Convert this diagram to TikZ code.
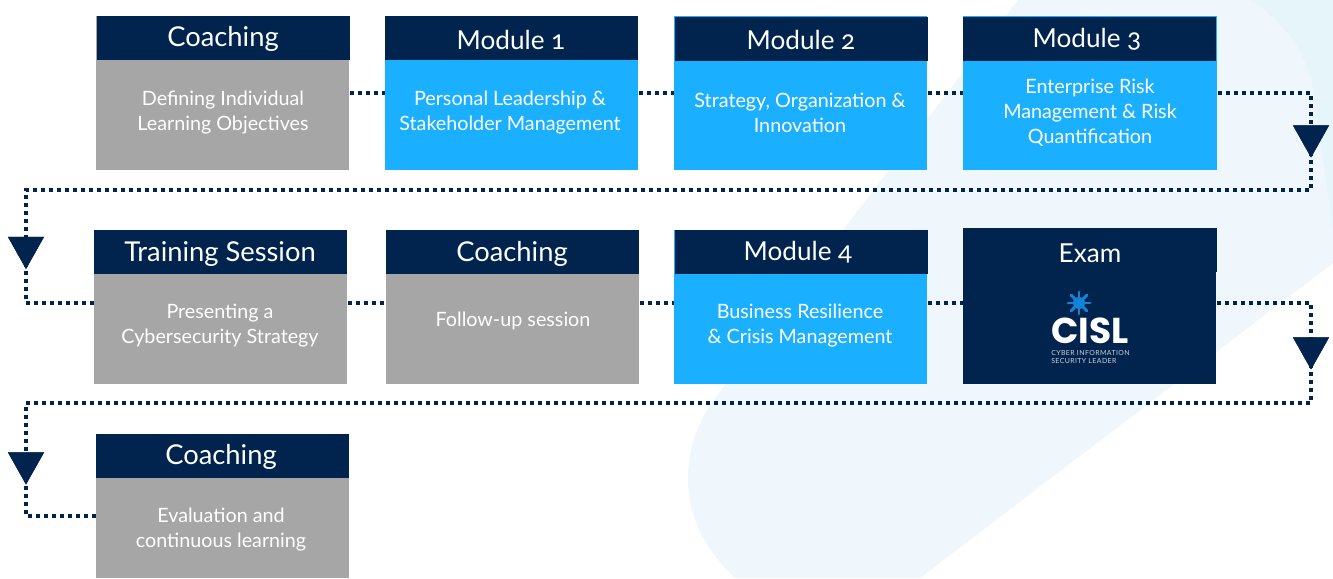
\documentclass[tikz,border=0pt]{standalone}
\usepackage{fontspec}
\setmainfont{Lato}[Numbers=OldStyle]
\newfontfamily\logofont{Poppins}[UprightFont=* Bold]
\usetikzlibrary{shapes.geometric,calc}
\definecolor{navy}{HTML}{01244F}
\definecolor{skyb}{HTML}{1AB0FF}
\definecolor{cardgray}{HTML}{A6A6A6}
\definecolor{bandc}{HTML}{EFF7FD}
\definecolor{cornerc}{HTML}{E5F5FA}
\definecolor{stard}{HTML}{1583D5}
\tikzset{
  x=0.75pt,y=-0.75pt,
  card/.style={draw=none,inner sep=0pt,minimum width=189.75pt,anchor=north west},
  bluecard/.style={card,fill=skyb,minimum height=115.5pt},
  graycard/.style={card,fill=cardgray,minimum height=115.5pt},
  navycard/.style={card,fill=navy,minimum height=115.5pt},
  head/.style={draw=none,fill=navy,inner sep=0pt,minimum width=189.75pt,minimum height=33pt,anchor=north west},
  headtxt/.style={text=white,font=\fontsize{19.6}{23}\selectfont,inner sep=0pt},
  headwide/.style={headtxt,font=\fontsize{20.5}{23}\selectfont},
  bodytxt/.style={text=white,font=\fontsize{14.8}{18.75}\selectfont,align=center,inner sep=0pt},
  conn/.style={draw=navy,line width=3.2pt,dash pattern=on 3pt off 3pt},
  tri/.style={isosceles triangle,isosceles triangle apex angle=59,isosceles triangle stretches,shape border rotate=270,fill=navy,draw=none,inner sep=0pt,minimum width=27pt,minimum height=24pt},
}
\begin{document}
\begin{tikzpicture}
\useasboundingbox (0,0) rectangle (1333,578);
\fill[white] (0,0) rectangle (1333,578);
% background swoosh
\fill[cornerc] (1240,0) -- (1333,0) -- (1333,240) -- (1300,150) -- cycle;
\fill[bandc] (1018,0) -- (1250,0) .. controls (1290,25) and (1310,60) .. (1315,100)
  .. controls (1322,160) and (1330,200) .. (1333,235) -- (1333,263) -- (920,578) -- (735,578)
  .. controls (700,545) and (688,510) .. (688,480) .. controls (688,450) and (695,430) .. (710,405) -- cycle;
% cards
\node[graycard] (c1) at (96,16) {};
\node[bluecard] (m1) at (385,16) {};
\node[bluecard] (m2) at (674,16) {};
\node[bluecard,minimum width=190.5pt] (m3) at (963,16) {};
\node[graycard] (ts) at (94,230) {};
\node[graycard] (c2) at (386,230) {};
\node[bluecard] (m4) at (674,230) {};
\node[navycard] (ex) at (963,230) {};
\node[graycard,minimum height=108pt] (c3) at (96,434) {};
% headers
\node[head] (hc1) at (97,16) {};
\node[head] (hm1) at (385,16) {};
\node[head] (hm2) at (675,17) {};
\node[head] (hm3) at (963,17) {};
\node[head] (hts) at (94,230) {};
\node[head] (hc2) at (386,230) {};
\node[head] (hm4) at (675,230) {};
\node[head,minimum width=190.5pt] (hex) at (963,228) {};
\node[head] (hc3) at (96,434) {};
\node[headwide] (tc1) at (223,39) {Coaching};
\node[headtxt] (tm1) at (511,40) {Module 1};
\node[headtxt] (tm2) at (801,40) {Module 2};
\node[headtxt] (tm3) at (1087,39) {Module 3};
\node[headwide] (tts) at (220,254) {Training Session};
\node[headwide] (tc2) at (512,254) {Coaching};
\node[headtxt] (tm4) at (798,252) {Module 4};
\node[headtxt] (tex) at (1090,253) {Exam};
\node[headwide] (tc3) at (221,457) {Coaching};
% body text
\node[bodytxt] (bc1) at (223,113) {Defining Individual\\Learning Objectives};
\node[bodytxt] (bm1) at (510,113) {Personal Leadership \&\\Stakeholder Management};
\node[bodytxt] (bm2) at (800,113) {Strategy, Organization \&\\Innovation};
\node[bodytxt] (bm3) at (1090,113) {Enterprise Risk\\Management \& Risk\\Quantification};
\node[bodytxt] (bts) at (220,326) {Presenting a\\Cybersecurity Strategy};
\node[bodytxt] (bc2) at (513,321) {Follow-up session};
\node[bodytxt] (bm4) at (800,326) {Business Resilience\\\& Crisis Management};
\node[bodytxt] (bc3) at (221,530) {Evaluation and\\continuous learning};
% logo
\foreach \a in {0,45,...,135}{
  \draw[stard,line width=2.2pt,line cap=round] (1079,303) ++(\a:11) -- ++(\a+180:22);
}
\fill[stard] (1079,303) circle (6);
\node[text=white,inner sep=0pt,font=\logofont\fontsize{27}{27}\selectfont] (cisl) at (1090,331) {CISL};
\node[text=white!80!navy,inner sep=0pt,anchor=west,align=left,font=\fontsize{5.2}{6}\selectfont\addfontfeature{LetterSpace=6}] (cisls) at (1051,357) {CYBER INFORMATION\\SECURITY LEADER};
% turn points
\coordinate (r1) at (668,190);
\coordinate (r2) at (668,403);
% arrowheads (positions)
\node[tri] (t1) at (1311,136) {};
\node[tri] (t2) at (26,247.5) {};
\node[tri] (t3) at (1311,348) {};
\node[tri] (t4) at (26,463) {};
% connectors
\draw[conn] (c1.east) -- (m1.west);
\draw[conn] (m1.east) -- (m2.west);
\draw[conn] (m2.east) -- (m3.west);
\draw[conn] (m3.east) -| (t1.center);
\draw[conn] (t1.center) |- (r1) -| (t2.center);
\draw[conn] ([yshift=3pt]ts.west) -| (t2.center);
\draw[conn] ([yshift=3pt]ts.east) -- ([yshift=3pt]c2.west);
\draw[conn] ([yshift=3pt]c2.east) -- ([yshift=3pt]m4.west);
\draw[conn] ([yshift=3pt]m4.east) -- ([yshift=3pt]ex.west);
\draw[conn] ([yshift=3pt]ex.east) -| (t3.center);
\draw[conn] (t3.center) |- (r2) -| (t4.center);
\draw[conn] ([yshift=-7.5pt]c3.west) -| (t4.center);
\node[tri] at (t1) {};
\node[tri] at (t2) {};
\node[tri] at (t3) {};
\node[tri] at (t4) {};
\end{tikzpicture}
\end{document}
